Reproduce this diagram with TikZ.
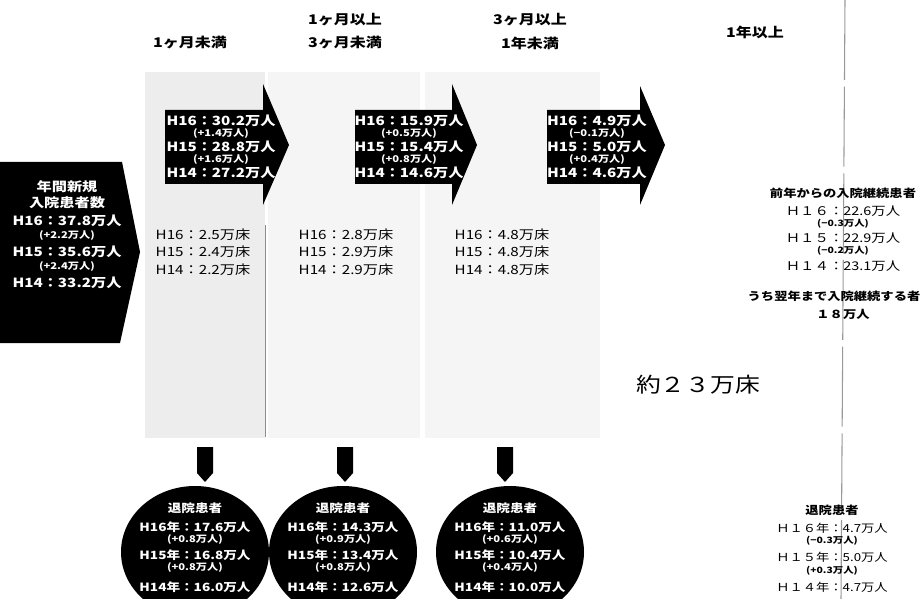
\documentclass[tikz,border=0pt]{standalone}
\usepackage{fontspec}
\setmainfont{Noto Sans CJK JP}[FakeStretch=1.2]
\usetikzlibrary{shapes.geometric}

\begin{document}
\begin{tikzpicture}[x=0.75pt,y=0.75pt,yscale=-1,xscale=1,
  hd/.style={inner sep=0.75pt,font=\fontsize{10}{12}\selectfont\bfseries},
  wbig/.style={inner sep=0.75pt,text=white,font=\fontsize{9.5}{11}\selectfont\bfseries},
  wsml/.style={inner sep=0.75pt,text=white,font=\fontsize{7}{8}\selectfont\bfseries},
  wdis/.style={inner sep=0.75pt,text=white,font=\fontsize{8.5}{10}\selectfont\bfseries},
  bed/.style={inner sep=0.75pt,font=\fontsize{9.5}{11}\selectfont},
  rtit/.style={inner sep=0.75pt,font=\fontsize{8.3}{10}\selectfont\bfseries},
  rval/.style={inner sep=0.75pt,font=\fontsize{9}{11}\selectfont},
  rsml/.style={inner sep=0.75pt,font=\fontsize{6.5}{8}\selectfont\bfseries},
  dval/.style={inner sep=0.75pt,font=\fontsize{8.3}{10}\selectfont},
  disc/.style={ellipse,fill=black,inner sep=0pt,minimum width=111pt,minimum height=99pt}
]
\useasboundingbox (0,0) rectangle (924,599);

%Shape: Rectangle [id:col1] 
\fill [black!7] (145,72) rectangle (265,438);
%Shape: Rectangle [id:col2] 
\fill [black!4] (268,72) rectangle (420,438);
%Shape: Rectangle [id:col3] 
\fill [black!4] (425,72) rectangle (600,438);
%Straight Lines [id:sep1] 
\draw [black!45, line width=0.4] (265,225) -- (265,437);
%Straight Lines [id:year] 
\draw [black!40, line width=0.8, dash pattern={on 60pt off 5pt}] (845,0) -- (841,599);

%Shape: Left Arrow [id:newin] 
\fill [black] (0,162) -- (122,162) -- (140,252) -- (120,343) -- (0,343) -- cycle;
%Shape: Right Arrow [id:arrA] 
\fill [black] (165,110) -- (263,110) -- (263,84) -- (289,145) -- (263,205) -- (263,184) -- (165,184) -- cycle;
%Shape: Right Arrow [id:arrB] 
\fill [black] (355,110) -- (452,110) -- (452,84) -- (477,145) -- (452,205) -- (452,184) -- (355,184) -- cycle;
%Shape: Right Arrow [id:arrC] 
\fill [black] (547,110) -- (640,110) -- (640,86) -- (665,145) -- (640,205) -- (640,184) -- (547,184) -- cycle;

%Shape: Down Arrow [id:dnA] 
\fill [black] (197,447) -- (213,447) -- (213,473) -- (205,482) -- (197,473) -- cycle;
%Shape: Down Arrow [id:dnB] 
\fill [black] (337,447) -- (353,447) -- (353,473) -- (345,482) -- (337,473) -- cycle;
%Shape: Down Arrow [id:dnC] 
\fill [black] (497,447) -- (513,447) -- (513,473) -- (505,482) -- (497,473) -- cycle;

%Shape: Ellipse [id:disA] 
\node [disc] (disA) at (195,552) {};
%Shape: Ellipse [id:disB] 
\node [disc] (disB) at (343,552) {};
%Shape: Ellipse [id:disC] 
\node [disc] (disC) at (510,552) {};

% Text Node
\draw (190,43) node [hd] (hdA) {1ヶ月未満};
% Text Node
\draw (345,20) node [hd] (hdB1) {1ヶ月以上};
\draw (345,43) node [hd] (hdB2) {3ヶ月未満};
% Text Node
\draw (530,20) node [hd] (hdC1) {3ヶ月以上};
\draw (530,43) node [hd] (hdC2) {1年未満};
% Text Node
\draw (755,32) node [hd] (hdD) {1年以上};

% Text Node
\draw (67,187) node [wbig] (nw1) {年間新規};
\draw (67,203) node [wbig] (nw2) {入院患者数};
\draw (67,221) node [wbig] (nw3) {H16：37.8万人};
\draw (67,236) node [wsml] (nw4) {(+2.2万人)};
\draw (67,252) node [wbig] (nw5) {H15：35.6万人};
\draw (67,267) node [wsml] (nw6) {(+2.4万人)};
\draw (67,283) node [wbig] (nw7) {H14：33.2万人};

% Text Node
\draw (221,121) node [wbig] (ma1) {H16：30.2万人};
\draw (221,134) node [wsml] (ma2) {(+1.4万人)};
\draw (221,147) node [wbig] (ma3) {H15：28.8万人};
\draw (221,160) node [wsml] (ma4) {(+1.6万人)};
\draw (221,173) node [wbig] (ma5) {H14：27.2万人};
% Text Node
\draw (409,121) node [wbig] (mb1) {H16：15.9万人};
\draw (409,134) node [wsml] (mb2) {(+0.5万人)};
\draw (409,147) node [wbig] (mb3) {H15：15.4万人};
\draw (409,160) node [wsml] (mb4) {(+0.8万人)};
\draw (409,173) node [wbig] (mb5) {H14：14.6万人};
% Text Node
\draw (597,121) node [wbig] (mc1) {H16：4.9万人};
\draw (597,134) node [wsml] (mc2) {(−0.1万人)};
\draw (597,147) node [wbig] (mc3) {H15：5.0万人};
\draw (597,160) node [wsml] (mc4) {(+0.4万人)};
\draw (597,173) node [wbig] (mc5) {H14：4.6万人};

% Text Node
\draw (203,235) node [bed] (ba1) {H16：2.5万床};
\draw (203,252) node [bed] (ba2) {H15：2.4万床};
\draw (203,270) node [bed] (ba3) {H14：2.2万床};
% Text Node
\draw (346,235) node [bed] (bb1) {H16：2.8万床};
\draw (346,252) node [bed] (bb2) {H15：2.9万床};
\draw (346,270) node [bed] (bb3) {H14：2.9万床};
% Text Node
\draw (502,235) node [bed] (bc1) {H16：4.8万床};
\draw (502,252) node [bed] (bc2) {H15：4.8万床};
\draw (502,270) node [bed] (bc3) {H14：4.8万床};

% Text Node
\draw (843,193) node [rtit] (ct1) {前年からの入院継続患者};
\draw (843,211) node [rval] (ct2) {Ｈ１６：22.6万人};
\draw (843,224) node [rsml] (ct3) {(−0.3万人)};
\draw (843,238) node [rval] (ct4) {Ｈ１５：22.9万人};
\draw (843,251) node [rsml] (ct5) {(−0.2万人)};
\draw (843,266) node [rval] (ct6) {Ｈ１４：23.1万人};
\draw (834,296) node [rtit] (ct7) {うち翌年まで入院継続する者};
\draw (843,314) node [rtit] (ct8) {１８万人};
% Text Node
\draw (698,385) node [inner sep=0.75pt,font=\fontsize{15.5}{18}\selectfont] (beds) {約２３万床};

% Text Node
\draw (disA.center) ++(0,-44) node [wdis] (da1) {退院患者};
\draw (disA.center) ++(0,-25) node [wdis] (da2) {H16年：17.6万人};
\draw (disA.center) ++(0,-12) node [wsml] (da3) {(+0.8万人)};
\draw (disA.center) ++(0,3) node [wdis] (da4) {H15年：16.8万人};
\draw (disA.center) ++(0,16) node [wsml] (da5) {(+0.8万人)};
\draw (disA.center) ++(0,35) node [wdis] (da6) {H14年：16.0万人};
% Text Node
\draw (disB.center) ++(0,-44) node [wdis] (db1) {退院患者};
\draw (disB.center) ++(0,-25) node [wdis] (db2) {H16年：14.3万人};
\draw (disB.center) ++(0,-12) node [wsml] (db3) {(+0.9万人)};
\draw (disB.center) ++(0,3) node [wdis] (db4) {H15年：13.4万人};
\draw (disB.center) ++(0,16) node [wsml] (db5) {(+0.8万人)};
\draw (disB.center) ++(0,35) node [wdis] (db6) {H14年：12.6万人};
% Text Node
\draw (disC.center) ++(0,-44) node [wdis] (dc1) {退院患者};
\draw (disC.center) ++(0,-25) node [wdis] (dc2) {H16年：11.0万人};
\draw (disC.center) ++(0,-12) node [wsml] (dc3) {(+0.6万人)};
\draw (disC.center) ++(0,3) node [wdis] (dc4) {H15年：10.4万人};
\draw (disC.center) ++(0,16) node [wsml] (dc5) {(+0.4万人)};
\draw (disC.center) ++(0,35) node [wdis] (dc6) {H14年：10.0万人};

% Text Node
\draw (832,510) node [rtit] (dr1) {退院患者};
\draw (832,528) node [dval] (dr2) {Ｈ１６年：4.7万人};
\draw (832,541) node [rsml] (dr3) {(−0.3万人)};
\draw (832,557) node [dval] (dr4) {Ｈ１５年：5.0万人};
\draw (832,571) node [rsml] (dr5) {(+0.3万人)};
\draw (832,587) node [dval] (dr6) {Ｈ１４年：4.7万人};

\end{tikzpicture}
\end{document}
